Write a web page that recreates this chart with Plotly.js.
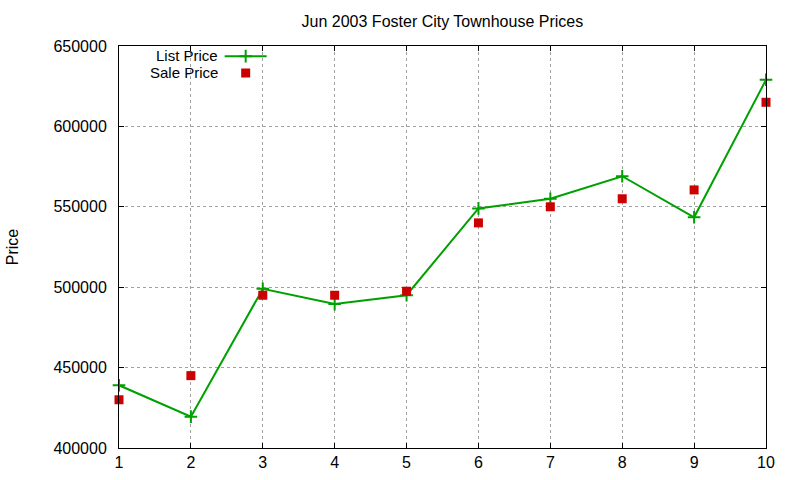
<!DOCTYPE html>
<html>
<head>
<meta charset="utf-8">
<script src="https://cdn.plot.ly/plotly-3.0.1.min.js"></script>
<style>
  html, body { margin: 0; padding: 0; background: #fff; }
  #chart { width: 800px; height: 480px; }
</style>
</head>
<body>
<div id="chart"></div>
<script>
const houses = [1, 2, 3, 4, 5, 6, 7, 8, 9, 10];
const listPrice = [439000, 419500, 499000, 489500, 495000, 549000, 555000, 569000, 543500, 629000];
const salePrice = [430000, 445000, 495000, 495000, 497500, 540000, 550000, 555000, 560500, 615000];
const seriesNames = ["List Price", "Sale Price"];

const FONT = "Liberation Sans, Arial, sans-serif";
const GREEN = "rgb(0,160,0)";
const RED = "rgb(204,0,0)";

// legend rows (paper y of each key, gnuplot-style: text left, sample right)
const keyRows = [0.976, 0.934];

const listTrace = {
  type: "scatter",
  mode: "lines+markers",
  x: houses,
  y: listPrice,
  name: "",
  legend: "legend",
  line: { color: GREEN, width: 2 },
  marker: { symbol: "cross-thin", size: 9, line: { color: GREEN, width: 2 } },
  cliponaxis: false,
};

const saleTrace = {
  type: "scatter",
  mode: "markers",
  x: houses,
  y: salePrice,
  name: "",
  legend: "legend2",
  marker: { symbol: "square", size: 9, color: RED },
  cliponaxis: false,
};

const axisCommon = {
  showline: true,
  linecolor: "#000",
  linewidth: 1,
  mirror: "ticks",
  ticks: "inside",
  ticklen: 5,
  tickcolor: "#000",
  showgrid: true,
  gridcolor: "#a0a0a0",
  gridwidth: 1,
  griddash: "dot",
  zeroline: false,
  tickfont: { family: FONT, size: 16, color: "#000" },
};

const legendCommon = {
  x: 0.1556, xanchor: "left",
  yanchor: "top",
  bgcolor: "rgba(0,0,0,0)",
  font: { family: FONT, size: 12 },
  itemwidth: 42,
};

const layout = {
  width: 800,
  height: 480,
  paper_bgcolor: "#fff",
  plot_bgcolor: "#fff",
  margin: { l: 119, r: 34, t: 46, b: 32 },
  font: { family: FONT, size: 16, color: "#000" },
  title: {
    text: "Jun 2003 Foster City Townhouse Prices",
    font: { family: FONT, size: 16, color: "#000" },
    x: 0.553, xanchor: "center",
    y: 0.956, yanchor: "middle",
  },
  xaxis: Object.assign({}, axisCommon, {
    range: [1, 10],
    tickmode: "linear", tick0: 1, dtick: 1,
  }),
  yaxis: Object.assign({}, axisCommon, {
    range: [400000, 650000],
    tickmode: "linear", tick0: 400000, dtick: 50000,
    tickformat: "d",
    ticklabelstandoff: 8,
    title: { text: "Price", font: { family: FONT, size: 16, color: "#000" }, standoff: 30 },
  }),
  showlegend: true,
  legend: Object.assign({}, legendCommon, { y: keyRows[0] + 14 / 402 }),
  legend2: Object.assign({}, legendCommon, { y: keyRows[1] + 14 / 402 }),
  annotations: seriesNames.map((n, i) => ({
    xref: "paper", yref: "paper",
    x: 0.154, xanchor: "right",
    y: keyRows[i], yanchor: "middle",
    text: n, showarrow: false, borderpad: 0,
    font: { family: FONT, size: 15, color: "#000" },
  })),
};

Plotly.newPlot("chart", [listTrace, saleTrace], layout, { displayModeBar: false, staticPlot: true });
</script>
</body>
</html>
